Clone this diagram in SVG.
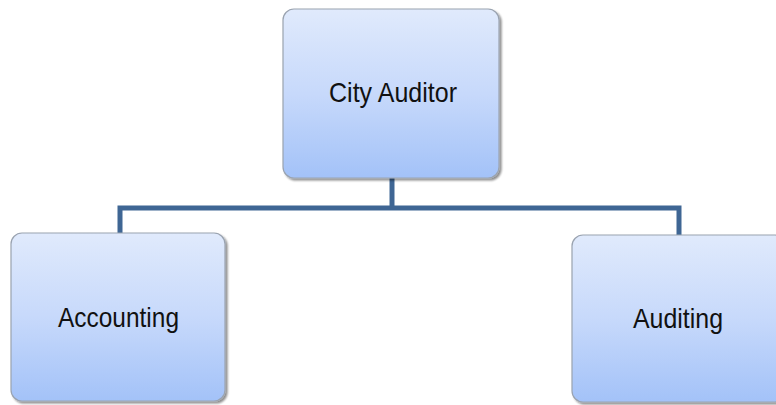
<svg xmlns="http://www.w3.org/2000/svg" width="776" height="405" viewBox="0 0 776 405">
<defs>
<linearGradient id="g" x1="0" y1="0" x2="0" y2="1">
<stop offset="0" stop-color="#e0eafc"/>
<stop offset="0.5" stop-color="#c7d9fb"/>
<stop offset="1" stop-color="#a3c2f8"/>
</linearGradient>
<filter id="sh" x="-5%" y="-5%" width="115%" height="115%">
<feGaussianBlur in="SourceAlpha" stdDeviation="1.2"/>
<feOffset dx="2" dy="2" result="b"/>
<feComponentTransfer><feFuncA type="linear" slope="0.45"/></feComponentTransfer>
<feMerge><feMergeNode/><feMergeNode in="SourceGraphic"/></feMerge>
</filter>
</defs>
<style>
.box{fill:url(#g);stroke:#9aa3b0;stroke-width:1.2;filter:url(#sh)}
.lbl{font-family:"Liberation Sans",Arial,sans-serif;font-size:28px;fill:#111}
.conn{fill:none;stroke:#3f6694;stroke-width:5}
</style>
<rect width="776" height="405" fill="#ffffff"/>
<g id="connectors">
<path class="conn" d="M392 178 V208"/>
<path class="conn" d="M120 233 V208 H679 V235"/>
</g>
<g id="city-auditor">
<rect class="box" x="283" y="9" width="216" height="169" rx="11"/>
<text class="lbl" x="329" y="102" textLength="128" lengthAdjust="spacingAndGlyphs">City Auditor</text>
</g>
<g id="accounting">
<rect class="box" x="11" y="233" width="214" height="168" rx="11"/>
<text class="lbl" x="58" y="327" textLength="121" lengthAdjust="spacingAndGlyphs">Accounting</text>
</g>
<g id="auditing">
<rect class="box" x="572" y="235" width="214" height="167" rx="11"/>
<text class="lbl" x="633" y="328" textLength="90" lengthAdjust="spacingAndGlyphs">Auditing</text>
</g>
</svg>
